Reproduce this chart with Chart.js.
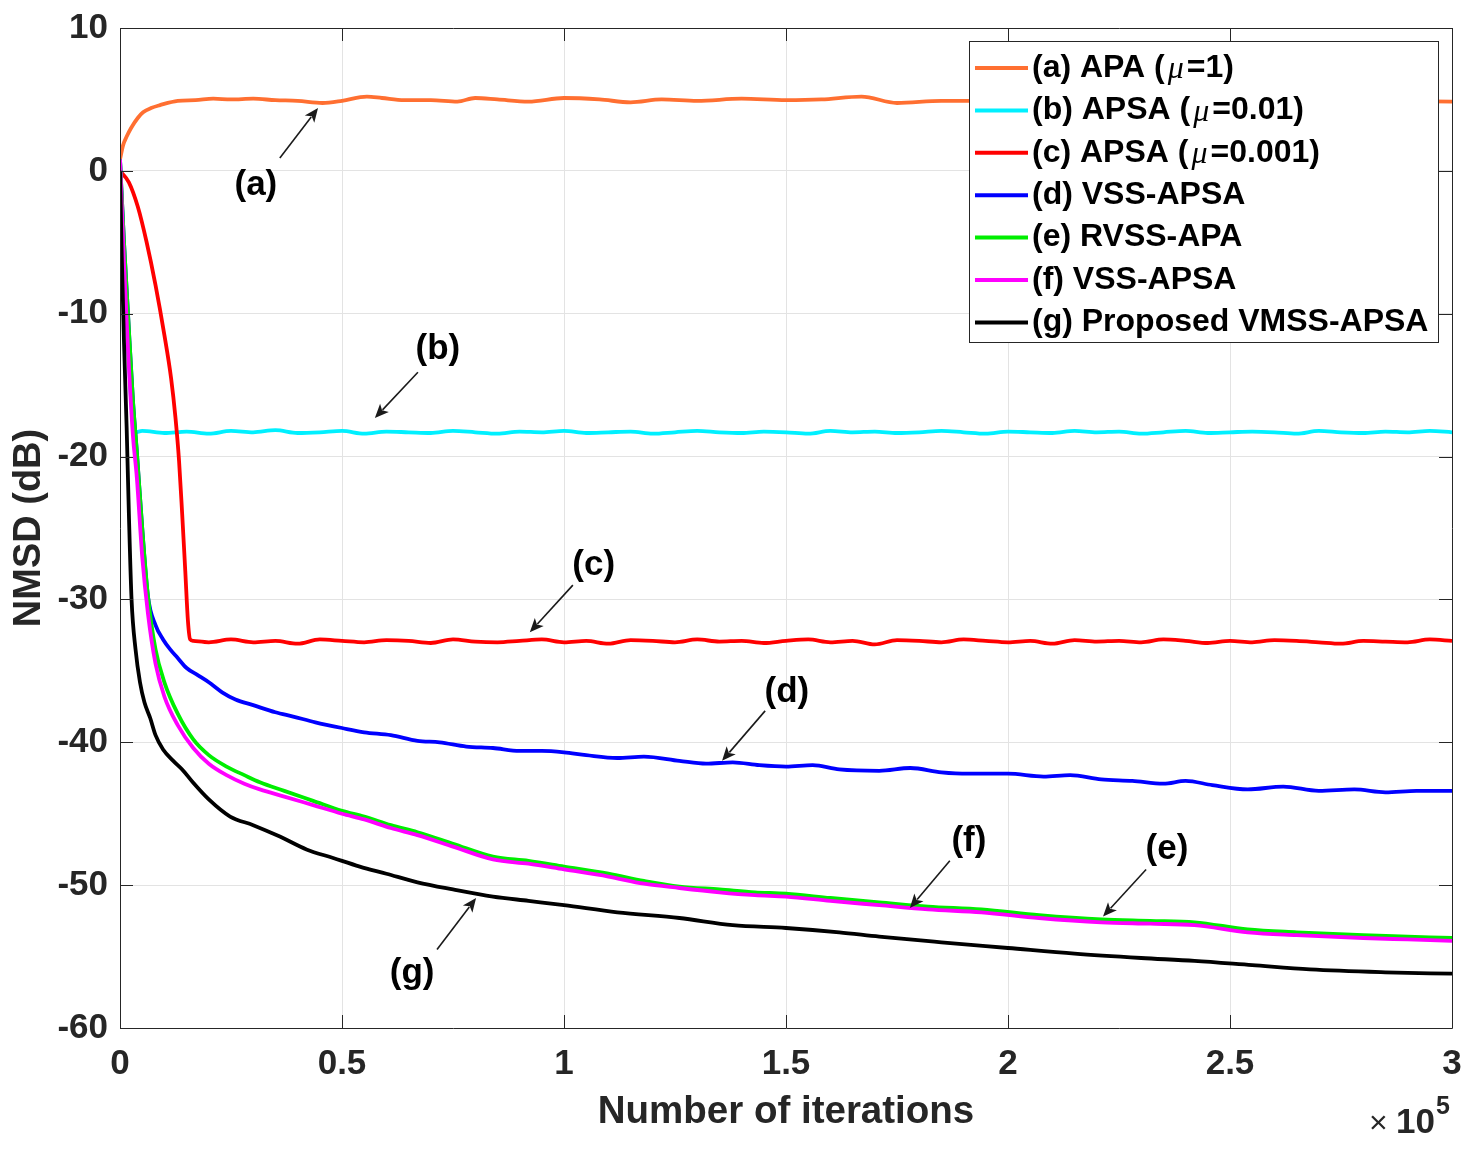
<!DOCTYPE html>
<html>
<head>
<meta charset="utf-8">
<script src="https://cdn.jsdelivr.net/npm/chart.js@4.4.0/dist/chart.umd.min.js"></script>
<style>
html, body { margin: 0; padding: 0; background: #fff; }
</style>
</head>
<body>
<canvas id="nmsdChart" width="1476" height="1149"></canvas>
<script>
// data: iterations and NMSD (dB)
const seriesNames = ['(a) APA (μ=1)', '(b) APSA (μ=0.01)', '(c) APSA (μ=0.001)',
    '(d) VSS-APSA', '(e) RVSS-APA', '(f) VSS-APSA', '(g) Proposed VMSS-APSA'];
const seriesColors = ['#ff6f31', '#00f0ff', '#ff0000', '#0000ff', '#00ee00', '#ff00ff', '#000000'];

const xTicksIters = [0, 50000, 100000, 150000, 200000, 250000, 300000];
const yTicksDb = [-60, -50, -40, -30, -20, -10, 0, 10];

const flatIters = [
    5000, 10000, 15000, 20000, 25000, 30000, 35000, 40000, 45000, 50000,
    55000, 60000, 65000, 70000, 75000, 80000, 85000, 90000, 95000, 100000,
    105000, 110000, 115000, 120000, 125000, 130000, 135000, 140000, 145000, 150000,
    155000, 160000, 165000, 170000, 175000, 180000, 185000, 190000, 195000, 200000,
    205000, 210000, 215000, 220000, 225000, 230000, 235000, 240000, 245000, 250000,
    255000, 260000, 265000, 270000, 275000, 280000, 285000, 290000, 295000, 300000
];

// (a)
const itersA = [0, 700, 1500, 2500, 4000, 5200, 7000, 9000, 13000, 17000,
    21000, 25000, 30000, 35000, 40000, 45600, 50000, 55600, 59000, 64000,
    70000, 76000, 80000, 85000, 92000, 100000, 108000, 115000, 122000, 130000,
    140000, 150000, 158000, 167000, 175000, 185000, 195000, 205000, 215000, 225000,
    235000, 245000, 255000, 265000, 275000, 285000, 300000];
const nmsdA = [0.8, 1.8, 2.4, 3.0, 3.7, 4.1, 4.4, 4.6, 4.9, 4.95,
    5.05, 5.0, 5.05, 4.95, 4.9, 4.75, 4.9, 5.2, 5.1, 4.95,
    4.95, 4.85, 5.1, 5.0, 4.85, 5.1, 5.0, 4.8, 5.0, 4.9,
    5.05, 4.95, 5.0, 5.2, 4.75, 4.9, 4.9, 5.0, 4.9, 5.0,
    4.95, 5.0, 4.9, 5.0, 4.95, 4.9, 4.85];

// (b)
const itersB = [0, 900, 1800, 2600, 3400].concat(flatIters);
const nmsdB = [0.8, -6, -12, -16.5, -18.3,
    -18.2, -18.35, -18.25, -18.4, -18.2, -18.3, -18.15, -18.35, -18.3, -18.2,
    -18.4, -18.25, -18.3, -18.35, -18.2, -18.3, -18.4, -18.25, -18.3, -18.2,
    -18.35, -18.3, -18.25, -18.4, -18.3, -18.2, -18.3, -18.35, -18.25, -18.3,
    -18.4, -18.2, -18.3, -18.25, -18.35, -18.3, -18.2, -18.3, -18.4, -18.25,
    -18.3, -18.35, -18.2, -18.3, -18.25, -18.4, -18.3, -18.2, -18.35, -18.3,
    -18.25, -18.3, -18.4, -18.2, -18.3, -18.35, -18.25, -18.3, -18.2, -18.3];

// (c)
const itersC = [0, 2000, 4000, 6000, 8000, 10000, 11500, 12500, 13300, 14000, 14700, 15300, 15800,
    16500, 20000, 25000, 30000, 35000, 40000, 45000, 50000, 55000, 60000, 65000,
    70000, 75000, 80000, 85000, 90000, 95000, 100000, 105000, 110000, 115000,
    120000, 125000, 130000, 135000, 140000, 145000, 150000, 155000, 160000, 165000,
    170000, 175000, 180000, 185000, 190000, 195000, 200000, 205000, 210000, 215000,
    220000, 225000, 230000, 235000, 240000, 245000, 250000, 255000, 260000, 265000,
    270000, 275000, 280000, 285000, 290000, 295000, 300000];
const nmsdC = [0, -0.8, -2.5, -5, -8, -11.5, -14.5, -17.3, -20.3, -24, -28, -31.5, -32.8,
    -32.9, -33.0, -32.8, -33.0, -32.9, -33.1, -32.8, -32.9,
    -33.0, -32.85, -32.9, -33.05, -32.8, -32.95, -33.0, -32.9, -32.8, -33.0,
    -32.9, -33.1, -32.85, -32.9, -33.0, -32.8, -32.95, -32.9, -33.05, -32.9,
    -32.8, -33.0, -32.9, -33.15, -32.85, -32.9, -33.0, -32.8, -32.9, -33.0,
    -32.9, -33.1, -32.85, -32.95, -32.9, -33.0, -32.8, -32.9, -33.05, -32.9,
    -33.0, -32.85, -32.9, -33.0, -33.1, -32.9, -32.95, -33.0, -32.8, -32.9];

// (d)
const itersD = [0, 900, 1800, 2900, 3800, 5000, 6300, 8000, 9700, 11300,
    13000, 15000, 17500, 20000, 23000, 26000, 30000, 35000, 39000, 44000,
    50000, 55000, 61000, 67000, 72000, 78000, 84000, 90000, 95000, 100000,
    105000, 112000, 118000, 126000, 132000, 138000, 144000, 150000, 156000, 162000,
    171000, 178000, 185000, 191000, 200000, 208000, 214000, 221000, 228000, 235000,
    240000, 246000, 254000, 262000, 270000, 278000, 285000, 292000, 300000];
const nmsdD = [0.8, -5, -10, -16, -19.7, -25, -29.8, -31.8, -32.8, -33.5,
    -34.1, -34.8, -35.3, -35.8, -36.5, -37.0, -37.4, -37.9, -38.2, -38.6,
    -39.0, -39.3, -39.5, -39.9, -40.0, -40.3, -40.4, -40.6, -40.6, -40.7,
    -40.9, -41.1, -41.0, -41.3, -41.5, -41.4, -41.6, -41.7, -41.6, -41.9,
    -42.0, -41.8, -42.1, -42.2, -42.2, -42.4, -42.3, -42.6, -42.7, -42.9,
    -42.7, -43.0, -43.3, -43.1, -43.4, -43.3, -43.5, -43.4, -43.4];

// (e) and (f) share the same iteration marks
const itersEF = [0, 900, 1800, 2900, 3800, 5000, 6300, 8000, 10000, 13000,
    16500, 20000, 24000, 28000, 31500, 37000, 43500, 50000, 55000, 61000,
    67000, 75000, 84000, 92000, 100000, 110000, 118000, 126000, 135000, 143000,
    150000, 160000, 171000, 182000, 194000, 207000, 221000, 232000, 242000, 254000,
    265000, 280000, 290000, 300000];
const nmsdE = [0.8, -5, -10, -16, -19.7, -25, -29.8, -33.5, -35.8, -38,
    -39.8, -40.9, -41.7, -42.3, -42.8, -43.4, -44.1, -44.8, -45.2, -45.8,
    -46.3, -47.1, -48.0, -48.3, -48.7, -49.2, -49.7, -50.1, -50.3, -50.5,
    -50.6, -50.9, -51.2, -51.5, -51.7, -52.1, -52.4, -52.5, -52.6, -53.1,
    -53.3, -53.5, -53.6, -53.7];
const nmsdF = [0.8, -6.5, -12.5, -18.5, -21.5, -27, -31, -34.5, -36.8, -38.8,
    -40.4, -41.5, -42.3, -42.9, -43.3, -43.8, -44.4, -45.0, -45.4, -46.0,
    -46.5, -47.3, -48.2, -48.5, -48.9, -49.4, -49.9, -50.2, -50.5, -50.7,
    -50.8, -51.1, -51.4, -51.7, -51.9, -52.3, -52.6, -52.7, -52.8, -53.3,
    -53.5, -53.7, -53.8, -53.9];

// (g)
const itersG = [0, 400, 900, 1500, 2000, 2600, 3500, 4500, 5500, 6800,
    8000, 9700, 12000, 14000, 16400, 20000, 24800, 30000, 36000, 42000,
    48000, 54000, 60000, 67000, 75000, 84000, 92000, 100000, 112000, 126000,
    138000, 150000, 162000, 171000, 185000, 200000, 215000, 230000, 242000, 255000,
    268000, 285000, 300000];
const nmsdG = [0, -6, -12, -18, -24, -30, -33.5, -35.8, -37.2, -38.3,
    -39.5, -40.5, -41.3, -41.9, -42.8, -44.0, -45.2, -45.8, -46.6, -47.5,
    -48.1, -48.7, -49.2, -49.8, -50.3, -50.8, -51.1, -51.4, -51.9, -52.3,
    -52.8, -53.0, -53.3, -53.6, -54.0, -54.4, -54.8, -55.1, -55.3, -55.6,
    -55.9, -56.1, -56.2];

const allIters = [itersA, itersB, itersC, itersD, itersEF, itersEF, itersG];
const allNmsd = [nmsdA, nmsdB, nmsdC, nmsdD, nmsdE, nmsdF, nmsdG];

const AXIS = '#262626';
const FONT = '"Liberation Sans", Arial, Helvetica, sans-serif';

// arrow annotations in data units: label spot, arrow tail, arrow tip
const notes = [
    { t: '(a)', lx: 30600, ly: -1.0, x1: 36000, y1: 0.9, x2: 44600, y2: 4.4 },
    { t: '(b)', lx: 71600, ly: -12.5, x1: 67100, y1: -14.1, x2: 57400, y2: -17.3 },
    { t: '(c)', lx: 106700, ly: -27.6, x1: 102000, y1: -29.0, x2: 92300, y2: -32.3 },
    { t: '(d)', lx: 150200, ly: -36.5, x1: 145300, y1: -37.8, x2: 135600, y2: -41.3 },
    { t: '(f)', lx: 191200, ly: -46.9, x1: 186900, y1: -48.3, x2: 177900, y2: -51.6 },
    { t: '(e)', lx: 235800, ly: -47.5, x1: 231100, y1: -48.9, x2: 221400, y2: -52.2 },
    { t: '(g)', lx: 65800, ly: -56.2, x1: 71400, y1: -54.5, x2: 80200, y2: -50.9 }
];

function drawArrow(ctx, x1, y1, x2, y2) {
    var ang = Math.atan2(y2 - y1, x2 - x1);
    var len = 14, half = 6;
    ctx.beginPath();
    ctx.moveTo(x1, y1);
    ctx.lineTo(x2 - Math.cos(ang) * len * 0.8, y2 - Math.sin(ang) * len * 0.8);
    ctx.stroke();
    ctx.beginPath();
    ctx.moveTo(x2, y2);
    ctx.lineTo(x2 - Math.cos(ang) * len - Math.sin(ang) * half, y2 - Math.sin(ang) * len + Math.cos(ang) * half);
    ctx.lineTo(x2 - Math.cos(ang) * len * 0.75, y2 - Math.sin(ang) * len * 0.75);
    ctx.lineTo(x2 - Math.cos(ang) * len + Math.sin(ang) * half, y2 - Math.sin(ang) * len - Math.cos(ang) * half);
    ctx.closePath();
    ctx.fill();
}

const matlabLook = {
    id: 'matlabLook',
    afterDraw(chart) {
        var ctx = chart.ctx;
        var a = chart.chartArea;
        var xs = chart.scales.x, ys = chart.scales.y;
        ctx.save();

        // box and inward ticks
        ctx.strokeStyle = AXIS;
        ctx.lineWidth = 1;
        ctx.beginPath();
        ctx.rect(a.left + 0.5, a.top + 0.5, a.right - a.left, a.bottom - a.top);
        ctx.stroke();
        ctx.beginPath();
        xTicksIters.forEach(function(v) {
            var px = Math.round(xs.getPixelForValue(v)) + 0.5;
            ctx.moveTo(px, a.bottom); ctx.lineTo(px, a.bottom - 13);
            ctx.moveTo(px, a.top); ctx.lineTo(px, a.top + 13);
        });
        yTicksDb.forEach(function(v) {
            var py = Math.round(ys.getPixelForValue(v)) + 0.5;
            ctx.moveTo(a.left, py); ctx.lineTo(a.left + 13, py);
            ctx.moveTo(a.right, py); ctx.lineTo(a.right - 13, py);
        });
        ctx.stroke();

        // arrows with labels
        ctx.strokeStyle = '#1a1a1a';
        ctx.fillStyle = '#1a1a1a';
        ctx.lineWidth = 1.6;
        notes.forEach(function(n) {
            drawArrow(ctx, xs.getPixelForValue(n.x1), ys.getPixelForValue(n.y1),
                xs.getPixelForValue(n.x2), ys.getPixelForValue(n.y2));
        });
        ctx.fillStyle = '#000';
        ctx.font = 'bold 35px ' + FONT;
        ctx.textAlign = 'center';
        ctx.textBaseline = 'middle';
        notes.forEach(function(n) {
            ctx.fillText(n.t, xs.getPixelForValue(n.lx), ys.getPixelForValue(n.ly));
        });

        // legend box
        var lx = 969, ly = 41, lw = 469, lh = 301;
        ctx.fillStyle = '#fff';
        ctx.fillRect(lx, ly, lw, lh);
        ctx.strokeStyle = AXIS;
        ctx.lineWidth = 1;
        ctx.strokeRect(lx + 0.5, ly + 0.5, lw, lh);
        ctx.textAlign = 'left';
        ctx.textBaseline = 'middle';
        seriesNames.forEach(function(name, i) {
            var cy = 68 + i * 42.4;
            ctx.strokeStyle = seriesColors[i];
            ctx.lineWidth = 4;
            ctx.beginPath();
            ctx.moveTo(975, cy); ctx.lineTo(1028, cy);
            ctx.stroke();
            var parts = name.split('μ');
            var tx = 1032;
            ctx.fillStyle = '#000';
            ctx.font = 'bold 32px ' + FONT;
            ctx.fillText(parts[0], tx, cy);
            if (parts.length > 1) {
                tx += ctx.measureText(parts[0]).width + 3;
                ctx.font = 'italic 32px "Liberation Serif", "Times New Roman", serif';
                ctx.fillText('μ', tx, cy + 2);
                tx += ctx.measureText('μ').width + 3;
                ctx.font = 'bold 32px ' + FONT;
                ctx.fillText(parts[1], tx, cy);
            }
        });

        // x10^5 multiplier
        ctx.fillStyle = AXIS;
        ctx.textBaseline = 'alphabetic';
        ctx.textAlign = 'left';
        ctx.font = '32px ' + FONT;
        ctx.fillText('×', 1369, 1133);
        ctx.font = 'bold 35px ' + FONT;
        ctx.fillText('10', 1396, 1133);
        ctx.font = 'bold 25px ' + FONT;
        ctx.fillText('5', 1436, 1114);
        ctx.restore();
    }
};

const datasets = seriesNames.map(function(name, i) {
    return {
        label: name,
        data: allIters[i].map(function(it, k) { return { x: it, y: allNmsd[i][k] }; }),
        borderColor: seriesColors[i],
        backgroundColor: seriesColors[i],
        borderWidth: 3.8,
        pointRadius: 0,
        fill: false,
        cubicInterpolationMode: 'monotone',
        borderJoinStyle: 'round',
        order: seriesNames.length - i
    };
});

const ctx = document.getElementById('nmsdChart').getContext('2d');
new Chart(ctx, {
    type: 'line',
    data: { datasets: datasets },
    options: {
        responsive: false,
        animation: false,
        devicePixelRatio: 1,
        layout: { padding: { top: 28, right: 24, left: 0, bottom: 0 } },
        plugins: {
            legend: { display: false },
            tooltip: { enabled: false }
        },
        scales: {
            x: {
                type: 'linear',
                min: 0,
                max: 300000,
                afterFit: function(s) {
                    s.height = 121;
                    s.paddingLeft = 0;
                    s.paddingRight = 0;
                },
                afterBuildTicks: function(s) { s.ticks = xTicksIters.map(function(v) { return { value: v }; }); },
                ticks: {
                    color: AXIS,
                    font: { family: FONT, size: 35, weight: 'bold' },
                    padding: 15,
                    maxRotation: 0,
                    callback: function(v) { return String(v / 100000); }
                },
                grid: { color: '#e3e3e3', drawTicks: false },
                border: { display: false },
                title: {
                    display: true,
                    text: 'Number of iterations',
                    color: AXIS,
                    font: { family: FONT, size: 38.5, weight: 'bold' },
                    padding: { top: 0, bottom: 14 }
                }
            },
            y: {
                min: -60,
                max: 10,
                afterFit: function(s) {
                    s.width = 120;
                    s.paddingTop = 0;
                    s.paddingBottom = 0;
                },
                afterBuildTicks: function(s) { s.ticks = yTicksDb.map(function(v) { return { value: v }; }); },
                ticks: {
                    color: AXIS,
                    font: { family: FONT, size: 35, weight: 'bold' },
                    padding: 12
                },
                grid: { color: '#e3e3e3', drawTicks: false },
                border: { display: false },
                title: {
                    display: true,
                    text: 'NMSD (dB)',
                    color: AXIS,
                    font: { family: FONT, size: 38, weight: 'bold' },
                    padding: { top: 7, bottom: 0 }
                }
            }
        }
    },
    plugins: [matlabLook]
});
</script>
</body>
</html>
